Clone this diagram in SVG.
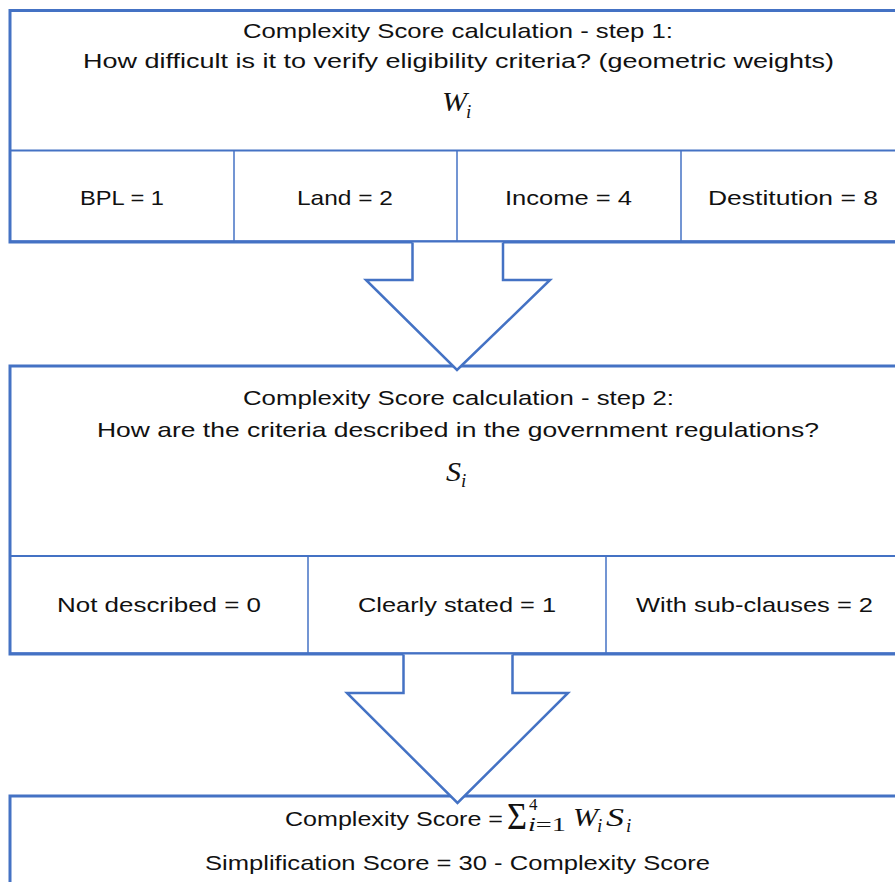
<svg xmlns="http://www.w3.org/2000/svg" width="895" height="882" viewBox="0 0 895 882">
<style>
.outer{fill:#fff;stroke:#4472C4;stroke-width:3}
.thin{stroke:#4472C4;stroke-width:1.5;fill:none}
.t{font-family:"Liberation Sans",Arial,sans-serif;font-size:21px;fill:#111}
.m{font-family:"Liberation Serif","DejaVu Serif",serif;font-style:italic;fill:#111}
.arrow{fill:#fff;stroke:#4472C4;stroke-width:2.5;stroke-linejoin:miter}
</style>
<rect width="895" height="882" fill="#fff"/>
<g id="step1">
<rect class="outer" x="10" y="10.5" width="900" height="231.5"/>
<line class="thin" x1="10" y1="150.5" x2="910" y2="150.5" style="stroke-width:2"/>
<line class="thin" x1="10" y1="241" x2="910" y2="241"/>
<line class="thin" x1="234" y1="150" x2="234" y2="242"/>
<line class="thin" x1="457" y1="150" x2="457" y2="242"/>
<line class="thin" x1="681" y1="150" x2="681" y2="242"/>
<text class="t" x="243" y="38" textLength="430" lengthAdjust="spacingAndGlyphs">Complexity Score calculation - step 1:</text>
<text class="t" x="83" y="68" textLength="751" lengthAdjust="spacingAndGlyphs">How difficult is it to verify eligibility criteria? (geometric weights)</text>
<text class="m" x="442" y="111" font-size="27" textLength="25" lengthAdjust="spacingAndGlyphs">W</text>
<text class="m" x="466" y="118" font-size="19">i</text>
<text class="t" x="80" y="205" textLength="84" lengthAdjust="spacingAndGlyphs">BPL = 1</text>
<text class="t" x="297" y="205" textLength="96" lengthAdjust="spacingAndGlyphs">Land = 2</text>
<text class="t" x="505" y="205" textLength="127" lengthAdjust="spacingAndGlyphs">Income = 4</text>
<text class="t" x="708" y="205" textLength="170" lengthAdjust="spacingAndGlyphs">Destitution = 8</text>
</g>
<g id="step2">
<rect class="outer" x="10" y="366" width="900" height="288"/>
<line class="thin" x1="10" y1="556" x2="910" y2="556" style="stroke-width:2"/>
<line class="thin" x1="10" y1="653" x2="910" y2="653"/>
<line class="thin" x1="308" y1="556" x2="308" y2="654"/>
<line class="thin" x1="606" y1="556" x2="606" y2="654"/>
<text class="t" x="243" y="405" textLength="431" lengthAdjust="spacingAndGlyphs">Complexity Score calculation - step 2:</text>
<text class="t" x="97" y="437" textLength="722" lengthAdjust="spacingAndGlyphs">How are the criteria described in the government regulations?</text>
<text class="m" x="446" y="481" font-size="28" textLength="15" lengthAdjust="spacingAndGlyphs">S</text>
<text class="m" x="461" y="487" font-size="19">i</text>
<text class="t" x="57" y="612" textLength="204" lengthAdjust="spacingAndGlyphs">Not described = 0</text>
<text class="t" x="358" y="612" textLength="198" lengthAdjust="spacingAndGlyphs">Clearly stated = 1</text>
<text class="t" x="636" y="612" textLength="237" lengthAdjust="spacingAndGlyphs">With sub-clauses = 2</text>
</g>
<g id="result">
<rect class="outer" x="10" y="796" width="900" height="120"/>
<text class="t" x="285" y="826" textLength="218" lengthAdjust="spacingAndGlyphs">Complexity Score =</text>
<text x="507" y="829" font-family="'Liberation Serif',serif" font-size="38" fill="#111" textLength="20" lengthAdjust="spacingAndGlyphs">Σ</text>
<text x="529" y="810" font-family="'Liberation Serif',serif" font-size="17" fill="#111">4</text>
<text x="528" y="831" font-family="'Liberation Serif',serif" font-size="19" fill="#111" textLength="38" lengthAdjust="spacingAndGlyphs"><tspan font-style="italic">i</tspan>=1</text>
<text class="m" x="573" y="826" font-size="25" textLength="25" lengthAdjust="spacingAndGlyphs">W</text>
<text class="m" x="597" y="832" font-size="19">i</text>
<text class="m" x="606" y="826" font-size="25" textLength="18" lengthAdjust="spacingAndGlyphs">S</text>
<text class="m" x="626" y="832" font-size="19">i</text>
<text class="t" x="205" y="870" textLength="505" lengthAdjust="spacingAndGlyphs">Simplification Score = 30 - Complexity Score</text>
</g>
<g id="connectors">
<path class="arrow" d="M412.5,242.5 L412.5,280 L366,280 L457,370 L550,280 L503,280 L503,242.5"/>
<path class="arrow" d="M403.5,654.5 L403.5,693 L347,693 L457.5,803 L568,693 L512.5,693 L512.5,654.5"/>
</g>
</svg>
